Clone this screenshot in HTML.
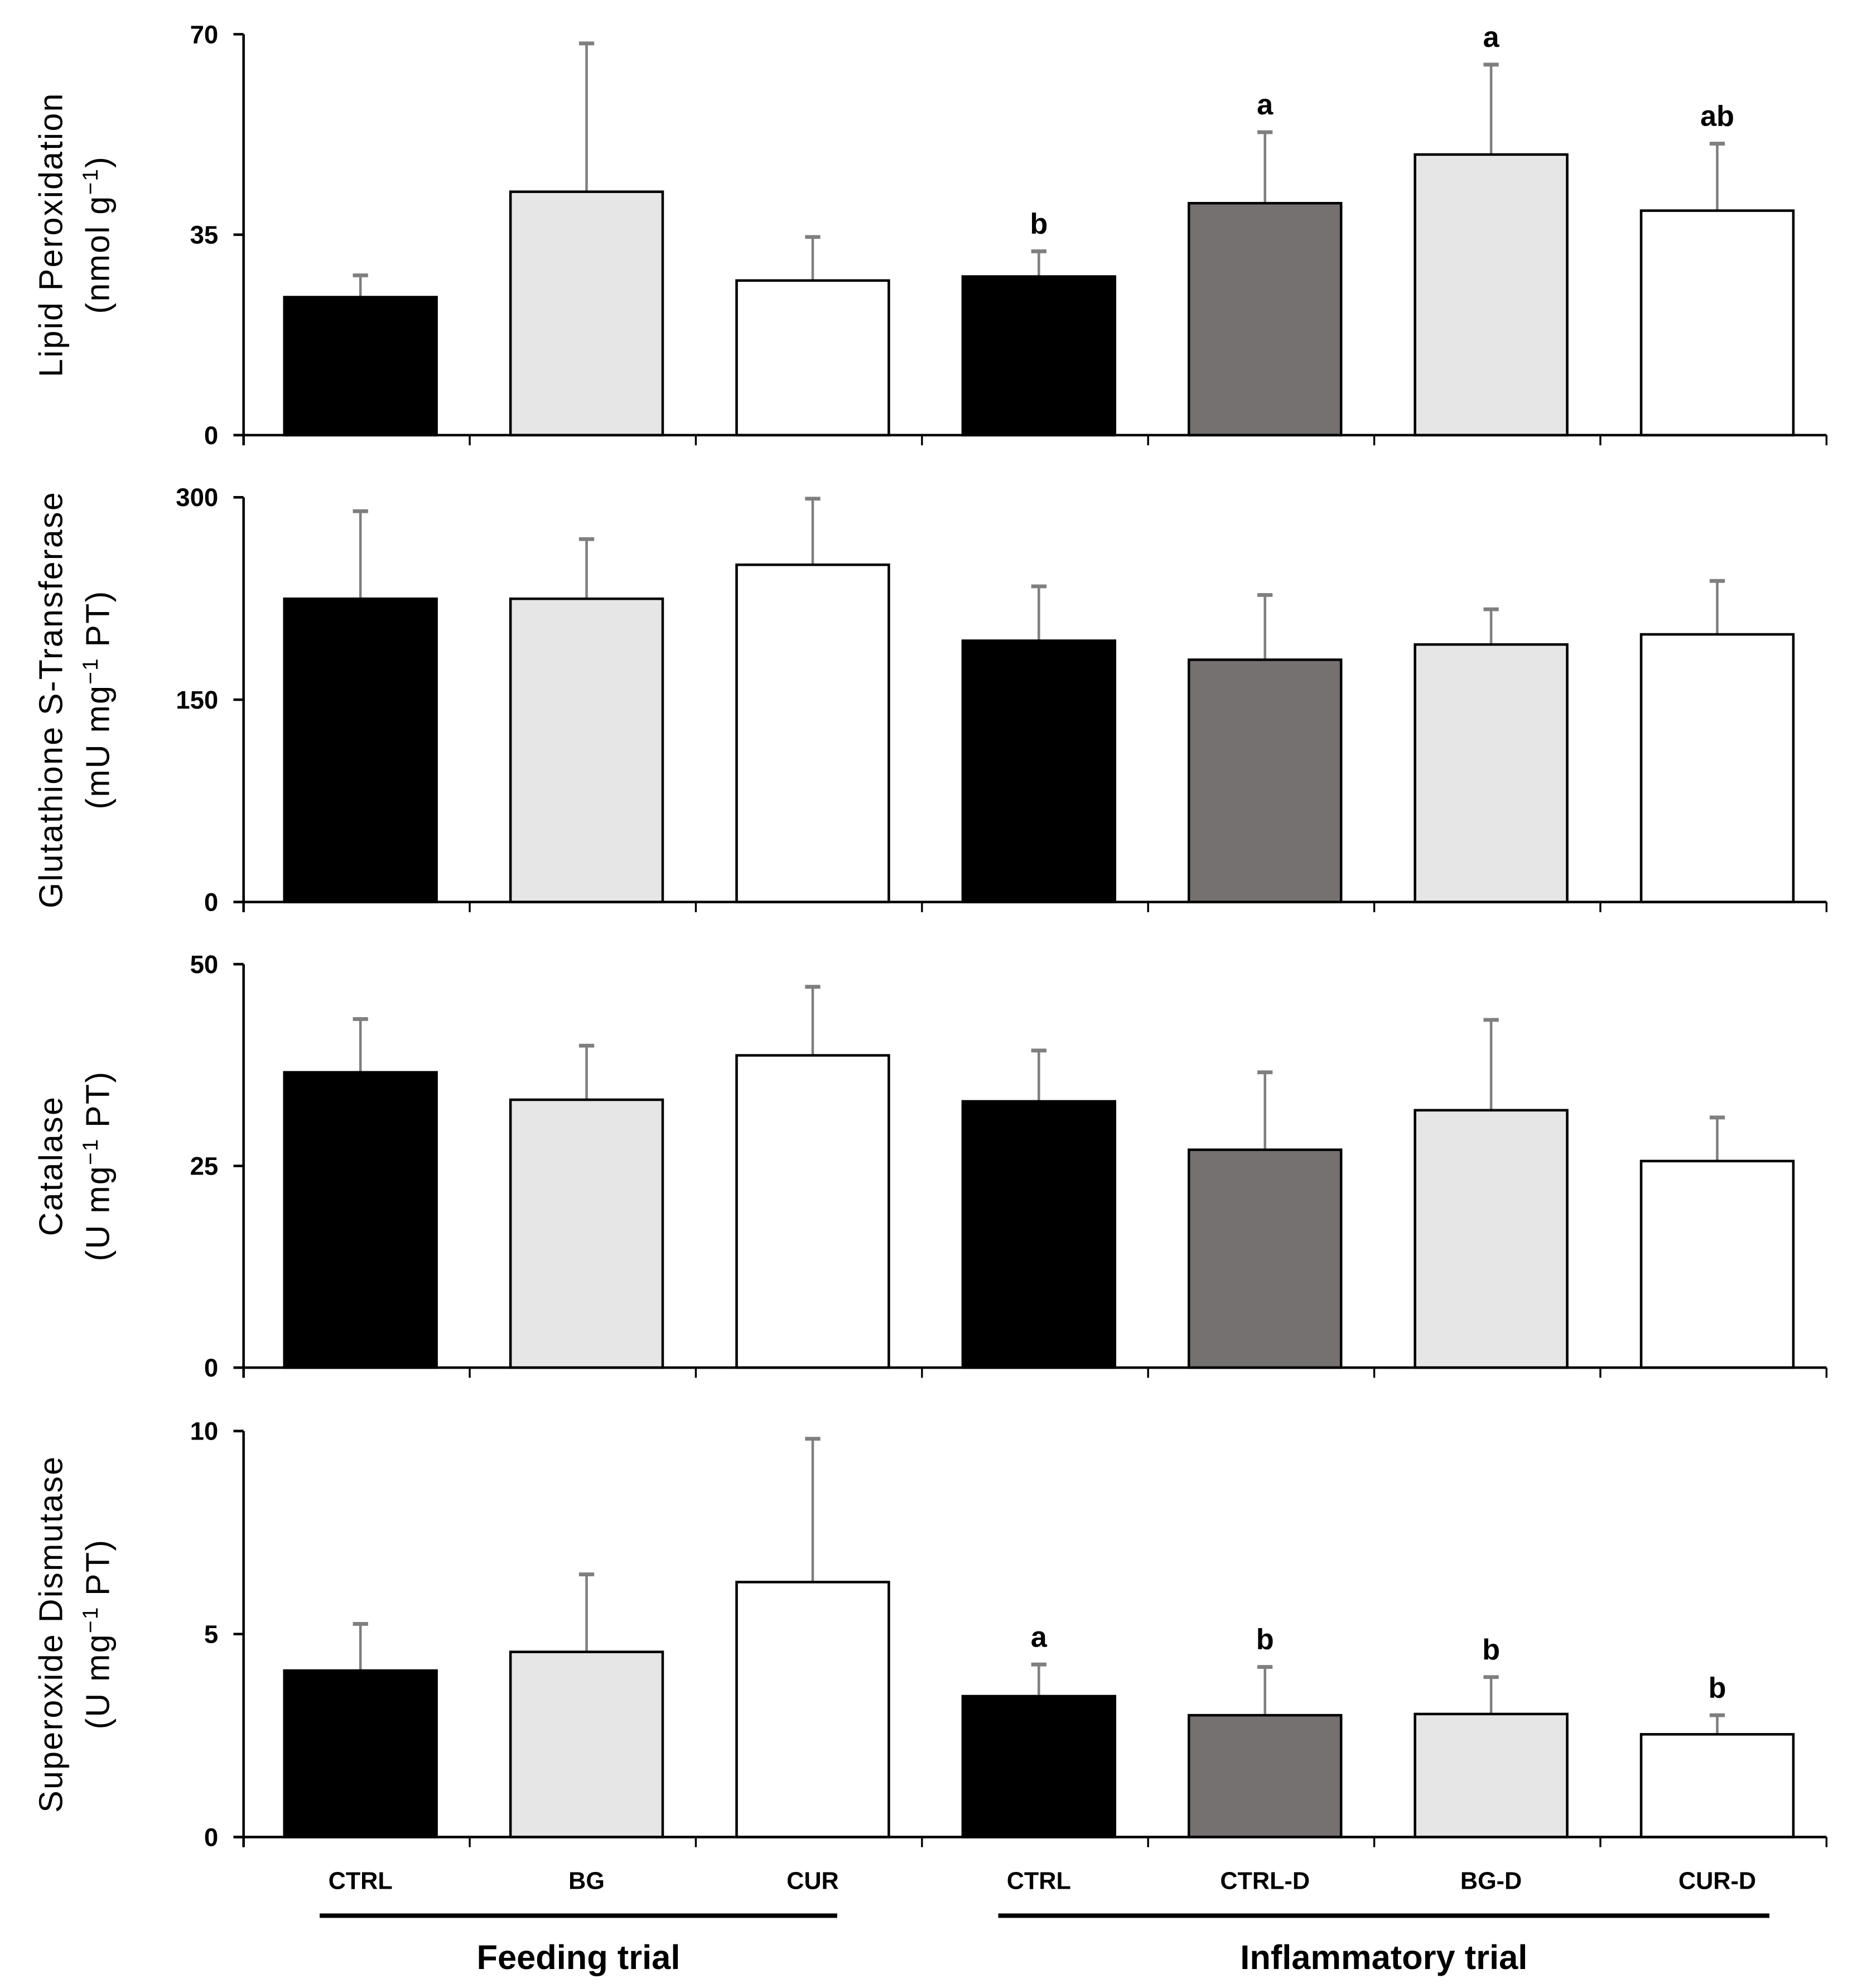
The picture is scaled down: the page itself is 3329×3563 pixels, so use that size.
<!DOCTYPE html>
<html><head><meta charset="utf-8"><style>
html,body{margin:0;padding:0;background:#fff;}
svg{display:block;}
text{font-family:"Liberation Sans",sans-serif;}
</style></head><body>
<svg id="chart" width="3329" height="3563" viewBox="0 0 1464 1567" xmlns="http://www.w3.org/2000/svg"></svg>
<script>
const categories = ["CTRL","BG","CUR","CTRL","CTRL-D","BG-D","CUR-D"];
const fills = ["#000000","#e6e6e6","#ffffff","#000000","#767171","#e6e6e6","#ffffff"];
const lipidMean = [24.1,42.5,27.0,27.7,40.5,49.0,39.2];
const lipidErr = [27.9,68.4,34.6,32.1,52.9,64.7,50.9];
const lipidLetters = ["","","","b","a","a","ab"];
const gstMean = [224.8,224.8,250,193.7,179.6,190.9,198.4];
const gstErr = [289.7,269,299,234,227.6,217,238];
const catMean = [36.6,33.2,38.7,33.0,27.0,31.9,25.6];
const catErr = [43.2,39.9,47.2,39.3,36.6,43.1,31.0];
const sodMean = [4.1,4.56,6.28,3.47,3.0,3.03,2.53];
const sodErr = [5.25,6.47,9.81,4.25,4.19,3.94,3.0];
const sodLetters = ["","","","a","b","b","b"];
const panelMax = [70,300,50,10];
const panelTicks = [["0","35","70"],["0","150","300"],["0","25","50"],["0","5","10"]];
const titles1 = ["Lipid Peroxidation","Glutathione S-Transferase","Catalase","Superoxide Dismutase"];
const titles2 = [["(nmol g","\u22121",")"],["(mU mg","\u22121"," PT)"],["(U mg","\u22121"," PT)"],["(U mg","\u22121"," PT)"]];

const NS="http://www.w3.org/2000/svg";
const svg=document.getElementById('chart');
function mk(tag,attrs,parent){const e=document.createElementNS(NS,tag);for(const k in attrs)e.setAttribute(k,attrs[k]);(parent||svg).appendChild(e);return e;}
const X0=192,X1=1440,slot=(X1-X0)/categories.length,barW=120;
function xC(i){return X0+slot*(i+0.5)+3;}
const panels=[
 {top:27,bot:343,mean:lipidMean,err:lipidErr,letters:lipidLetters,name:'lipid-peroxidation'},
 {top:392,bot:711,mean:gstMean,err:gstErr,letters:null,name:'gst'},
 {top:760,bot:1078,mean:catMean,err:catErr,letters:null,name:'catalase'},
 {top:1128,bot:1448,mean:sodMean,err:sodErr,letters:sodLetters,name:'sod'}
];
panels.forEach((p,pi)=>{
 const g=mk('g',{});
 
 
 const y=v=>p.bot-(v/panelMax[pi])*(p.bot-p.top);
 p.mean.forEach((v,i)=>{
  const cx=xC(i);
  const eb=mk('line',{x1:cx,x2:cx,y1:y(v),y2:y(p.err[i]),stroke:'#7f7f7f','stroke-width':2},g);
  
  
  const cap=mk('line',{x1:cx-6,x2:cx+6,y1:y(p.err[i]),y2:y(p.err[i]),stroke:'#7f7f7f','stroke-width':3},g);
  
  
  const r=mk('rect',{x:cx-barW/2,y:y(v),width:barW,height:p.bot-y(v),fill:fills[i],stroke:'#000','stroke-width':2},g);
  
  
  if(p.letters&&p.letters[i]){
   const t=mk('text',{x:cx,y:y(p.err[i])-14,'text-anchor':'middle','font-size':23,'font-weight':'bold'},g);
   t.textContent=p.letters[i];
   
   
  }
 });
 const ya=mk('line',{x1:X0,x2:X0,y1:p.top,y2:p.bot+8,stroke:'#000','stroke-width':2},g);
 
 
 const xa=mk('line',{x1:X0-8,x2:X1,y1:p.bot,y2:p.bot,stroke:'#000','stroke-width':2},g);
 
 
 for(let k=1;k<=categories.length;k++){
  mk('line',{x1:X0+slot*k,x2:X0+slot*k,y1:p.bot,y2:p.bot+8,stroke:'#000','stroke-width':1.5},g);
 }
 panelTicks[pi].forEach((lab,k)=>{
  const v=panelMax[pi]*k/2, ty=y(v);
  mk('line',{x1:X0-8,x2:X0,y1:ty,y2:ty,stroke:'#000','stroke-width':2},g);
  const t=mk('text',{x:172,y:ty+7,'text-anchor':'end','font-size':20,'font-weight':'bold'},g);
  t.textContent=lab;
  
  
 });
 const cy=(p.top+p.bot)/2;
 const t1=mk('text',{x:0,y:0,transform:`translate(49,${cy}) rotate(-90)`,'text-anchor':'middle','font-size':26,'letter-spacing':1},g);
 t1.textContent=titles1[pi];
 
 
 const t2=mk('text',{x:0,y:0,transform:`translate(86,${cy}) rotate(-90)`,'text-anchor':'middle','font-size':26,'letter-spacing':1},g);
 
 
 const a=mk('tspan',{},t2);a.textContent=titles2[pi][0];
 const b=mk('tspan',{dy:-9,'font-size':17},t2);b.textContent=titles2[pi][1];
 const c=mk('tspan',{dy:9},t2);c.textContent=titles2[pi][2];
});
categories.forEach((c,i)=>{
 const t=mk('text',{x:xC(i),y:1489,'text-anchor':'middle','font-size':19,'font-weight':'bold'});
 t.textContent=c;
 
 
});
</script>
<svg style="position:absolute;left:0;top:0" width="3329" height="3563" viewBox="0 0 1464 1567">
<line x1="252" x2="660" y1="1510" y2="1510" stroke="#000" stroke-width="3.5"/>
<line x1="787" x2="1395" y1="1510" y2="1510" stroke="#000" stroke-width="3.5"/>
<text x="456" y="1552" text-anchor="middle" font-size="27" font-weight="bold" font-family="Liberation Sans, sans-serif">Feeding trial</text>
<text x="1091" y="1552" text-anchor="middle" font-size="27" font-weight="bold" font-family="Liberation Sans, sans-serif">Inflammatory trial</text>
</svg>
</body></html>
